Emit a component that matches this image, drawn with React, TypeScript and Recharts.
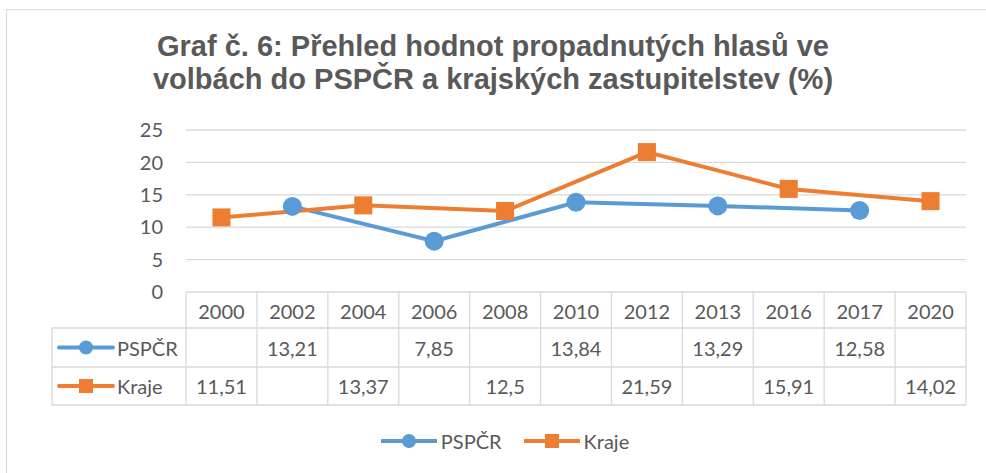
import React from 'react';
import { LineChart, Line, XAxis, YAxis, CartesianGrid, Legend } from 'recharts';

const years = ['2000', '2002', '2004', '2006', '2008', '2010', '2012', '2013', '2016', '2017', '2020'];
const pspValues: (number | null)[] = [null, 13.21, null, 7.85, null, 13.84, null, 13.29, null, 12.58, null];
const krajeValues: (number | null)[] = [11.51, null, 13.37, null, 12.5, null, 21.59, null, 15.91, null, 14.02];
const yTicks = [0, 5, 10, 15, 20, 25];
const seriesNames = ['PSPČR', 'Kraje'];
const titleLines = ['Graf č. 6: Přehled hodnot propadnutých hlasů ve', 'volbách do PSPČR a krajských zastupitelstev (%)'];

const data = years.map((y, i) => ({ year: y, psp: pspValues[i], kraje: krajeValues[i] }));

const W = 986;
const H = 473;
const M = { top: 130, right: 20, bottom: 17, left: 0 };
const Y_AXIS_W = 186;
const LEGEND_H = 30;
const X_AXIS_H = H - M.top - M.bottom - LEGEND_H - 162;
const PLOT_LEFT = Y_AXIS_W;
const PLOT_W = W - M.right - PLOT_LEFT;
const COL_W = PLOT_W / years.length;
const ROW_TOP = 292;
const ROW1 = 328;
const ROW2 = 367;
const ROW3 = 405;
const LABEL_LEFT = 52;

const BLUE = '#5B9BD5';
const ORANGE = '#ED7D31';
const GRID = '#D9D9D9';
const TEXT = '#595959';
const FONT = 'Lato, "Open Sans", sans-serif';

const fmt = (v: number | null) => (v == null ? '' : String(v).replace('.', ','));

const LineIcon = ({ x, y, kind }: { x: number; y: number; kind: 'circle' | 'square' }) => (
  <g>
    <line x1={x} x2={x + 54} y1={y} y2={y} stroke={kind === 'circle' ? BLUE : ORANGE} strokeWidth={4} strokeLinecap="round" />
    {kind === 'circle' ? (
      <circle cx={x + 27} cy={y} r={7} fill={BLUE} />
    ) : (
      <rect x={x + 20} y={y - 7} width={14} height={14} fill={ORANGE} />
    )}
  </g>
);

const TableTick = (props: any) => {
  const { x, index, payload } = props;
  const left = x - COL_W / 2;
  const right = x + COL_W / 2;
  const i = index;
  const textProps = { fontFamily: FONT, fontSize: 20, fill: TEXT, textAnchor: 'middle' as const, dominantBaseline: 'central' as const };
  return (
    <g>
      <line x1={left} x2={left} y1={ROW_TOP} y2={ROW3} stroke={GRID} strokeWidth={1.3} />
      {i === years.length - 1 && <line x1={right} x2={right} y1={ROW_TOP} y2={ROW3} stroke={GRID} strokeWidth={1.3} />}
      <text x={x} y={(ROW_TOP + ROW1) / 2 + 1} {...textProps}>{payload.value}</text>
      <text x={x} y={(ROW1 + ROW2) / 2} {...textProps}>{fmt(pspValues[i])}</text>
      <text x={x} y={(ROW2 + ROW3) / 2} {...textProps}>{fmt(krajeValues[i])}</text>
      {i === 0 && (
        <g>
          <line x1={LABEL_LEFT} x2={PLOT_LEFT + PLOT_W} y1={ROW1} y2={ROW1} stroke={GRID} strokeWidth={1.3} />
          <line x1={LABEL_LEFT} x2={PLOT_LEFT + PLOT_W} y1={ROW2} y2={ROW2} stroke={GRID} strokeWidth={1.3} />
          <line x1={LABEL_LEFT} x2={PLOT_LEFT + PLOT_W} y1={ROW3} y2={ROW3} stroke={GRID} strokeWidth={1.3} />
          <line x1={LABEL_LEFT} x2={LABEL_LEFT} y1={ROW1} y2={ROW3} stroke={GRID} strokeWidth={1.3} />
          <LineIcon x={59} y={(ROW1 + ROW2) / 2} kind="circle" />
          <LineIcon x={59} y={(ROW2 + ROW3) / 2} kind="square" />
          <text x={117} y={(ROW1 + ROW2) / 2} fontFamily={FONT} fontSize={20} fill={TEXT} dominantBaseline="central">{seriesNames[0]}</text>
          <text x={117} y={(ROW2 + ROW3) / 2} fontFamily={FONT} fontSize={20} fill={TEXT} dominantBaseline="central">{seriesNames[1]}</text>
        </g>
      )}
    </g>
  );
};

const SquareDot = (props: any) => {
  const { cx, cy, index } = props;
  if (cx == null || cy == null) return <g key={`sq-${index}`} />;
  return <rect key={`sq-${index}`} x={cx - 9} y={cy - 9} width={18} height={18} fill={ORANGE} />;
};

const CircleDot = (props: any) => {
  const { cx, cy, index } = props;
  if (cx == null || cy == null) return <g key={`ci-${index}`} />;
  return <circle key={`ci-${index}`} cx={cx} cy={cy} r={9.5} fill={BLUE} />;
};

const LegendContent = () => (
  <div style={{ display: 'flex', justifyContent: 'center', alignItems: 'center', height: LEGEND_H, paddingLeft: 44, boxSizing: 'border-box' }}>
    {seriesNames.map((name, i) => (
      <div key={name} style={{ display: 'flex', alignItems: 'center', marginRight: i === 0 ? 22 : 0 }}>
        <svg width={56} height={20} style={{ marginRight: 4 }}>
          <LineIcon x={1} y={10} kind={i === 0 ? 'circle' : 'square'} />
        </svg>
        <span style={{ fontFamily: FONT, fontSize: 20, color: TEXT }}>{name}</span>
      </div>
    ))}
  </div>
);

export default function App() {
  return (
    <div style={{ position: 'absolute', left: 0, top: 0, width: W, height: H, background: '#fff', overflow: 'hidden' }}>
      <div style={{ position: 'absolute', left: 6, top: 9, width: W, height: H, borderLeft: `1.5px solid ${GRID}`, borderTop: `1.5px solid ${GRID}` }} />
      <div style={{ position: 'absolute', left: 0, top: 30, width: W, textAlign: 'center', fontFamily: '"Liberation Sans", Arial, sans-serif', fontWeight: 'bold', fontSize: 29, lineHeight: '33px', color: TEXT }}>
        {titleLines.map((l) => (
          <div key={l}>{l}</div>
        ))}
      </div>
      <div style={{ position: 'absolute', left: 0, top: 0 }}>
        <LineChart width={W} height={H} data={data} margin={M}>
          <CartesianGrid horizontal vertical={false} stroke={GRID} strokeWidth={1.3} />
          <XAxis
            dataKey="year"
            axisLine={false}
            tickLine={false}
            interval={0}
            height={X_AXIS_H}
            padding={{ left: COL_W / 2, right: COL_W / 2 }}
            tick={<TableTick />}
          />
          <YAxis
            width={Y_AXIS_W}
            domain={[0, 25]}
            ticks={yTicks}
            axisLine={false}
            tickLine={false}
            tickMargin={17}
            tick={{ fontFamily: FONT, fontSize: 20, fill: TEXT }}
          />
          <Legend verticalAlign="bottom" height={LEGEND_H} content={<LegendContent />} />
          <Line type="linear" dataKey="psp" name={seriesNames[0]} stroke={BLUE} strokeWidth={4} connectNulls dot={<CircleDot />} activeDot={false} isAnimationActive={false} />
          <Line type="linear" dataKey="kraje" name={seriesNames[1]} stroke={ORANGE} strokeWidth={4} connectNulls dot={<SquareDot />} activeDot={false} isAnimationActive={false} />
        </LineChart>
      </div>
    </div>
  );
}
